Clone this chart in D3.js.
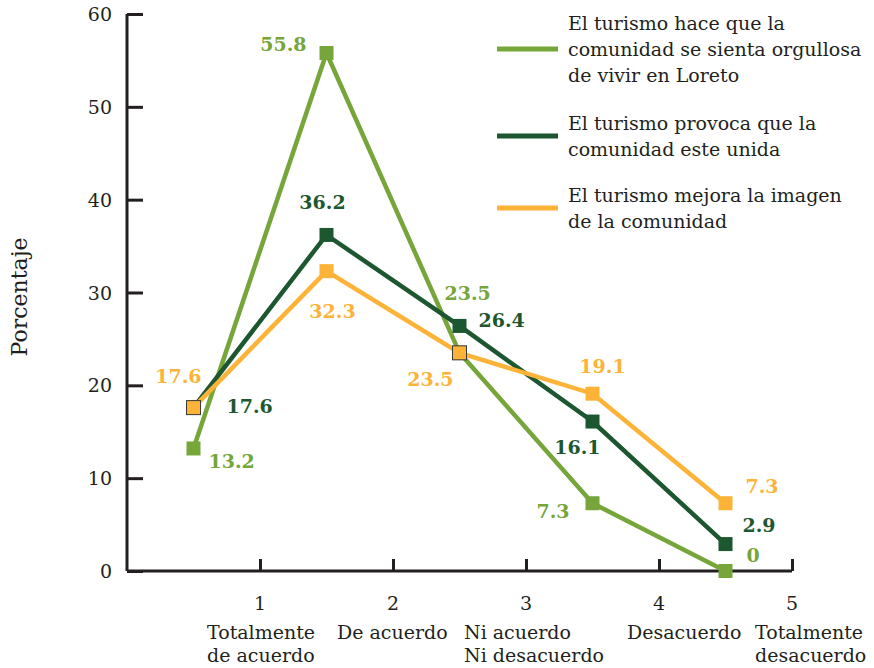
<!DOCTYPE html>
<html>
<head>
<meta charset="utf-8">
<script src="https://cdn.jsdelivr.net/npm/d3@7"></script>
<style>
  body { margin: 0; background: #fff; }
  text { font-family: "DejaVu Serif", "Liberation Serif", serif; }
</style>
</head>
<body>
<div id="chart"></div>
<script>
// categories on the x axis (tick number + two line label)
var ticks = [1, 2, 3, 4, 5];
var catLines = [
  ["Totalmente", "de acuerdo"],
  ["De acuerdo"],
  ["Ni acuerdo", "Ni desacuerdo"],
  ["Desacuerdo"],
  ["Totalmente", "desacuerdo"]
];
var xPos = [0.5, 1.5, 2.5, 3.5, 4.5];

var orgullosa = [13.2, 55.8, 23.5, 7.3, 0];
var unida = [17.6, 36.2, 26.4, 16.1, 2.9];
var imagen = [17.6, 32.3, 23.5, 19.1, 7.3];

var legendNames = [
  ["El turismo hace que la", "comunidad se sienta orgullosa", "de vivir en Loreto"],
  ["El turismo provoca que la", "comunidad este unida"],
  ["El turismo mejora la imagen", "de la comunidad"]
];
var yTicks = [0, 10, 20, 30, 40, 50, 60];

// left edge of each category label block, relative to its tick
var catShift = [-53, -56, -62, -32, -37];

// value label offsets (dx, dy, anchor) per point
var offOrg = [[15, 20, "start"], [-20, -2, "end"], [-15, -53, "start"], [-23, 15, "end"], [21, -9, "start"]];
var offUni = [[33, 5, "start"], [-4, -26, "middle"], [19, 1, "start"], [8, 32, "end"], [17, -12, "start"]];
var offIma = [[8, -25, "end"], [6, 47, "middle"], [-6, 33, "end"], [10, -21, "middle"], [20, -10, "start"]];

var series = [
  { name: legendNames[0], values: orgullosa, color: "#76a53a", off: offOrg },
  { name: legendNames[1], values: unida, color: "#1d5730", off: offUni },
  { name: legendNames[2], values: imagen, color: "#fdb338", off: offIma }
];

var width = 874, height = 668;
var svg = d3.select("#chart").append("svg")
  .attr("width", width)
  .attr("height", height);

var x = d3.scaleLinear().domain([0, 5]).range([127, 792]);
var y = d3.scaleLinear().domain([0, 60]).range([571, 14]);

// axes
var gy = svg.append("g").attr("transform", "translate(127,0)")
  .call(d3.axisRight(y).tickValues(yTicks).tickSize(16).tickFormat(""));
gy.select(".domain").attr("d", "M0," + y(60) + "V" + y(0)).attr("stroke", "#231f20").attr("stroke-width", 3);
gy.selectAll(".tick line").attr("stroke", "#231f20").attr("stroke-width", 3);

var gx = svg.append("g").attr("transform", "translate(0,571)")
  .call(d3.axisTop(x).tickValues(ticks).tickSize(12).tickFormat(""));
gx.select(".domain").attr("d", "M" + x(0) + ",0H" + x(5)).attr("stroke", "#231f20").attr("stroke-width", 3);
gx.selectAll(".tick line").attr("stroke", "#231f20").attr("stroke-width", 3);

svg.selectAll(".ylab").data(yTicks).enter().append("text")
  .attr("x", 112).attr("y", function(d) { return y(d) + 7; })
  .attr("text-anchor", "end").attr("font-size", 19).attr("fill", "#231f20")
  .text(function(d) { return d; });

svg.selectAll(".xlab").data(ticks).enter().append("text")
  .attr("x", function(d) { return x(d); }).attr("y", 610)
  .attr("text-anchor", "middle").attr("font-size", 19).attr("fill", "#231f20")
  .text(function(d) { return d; });

var cat = svg.selectAll(".cat").data(ticks).enter().append("text")
  .attr("font-size", 19).attr("fill", "#231f20");
cat.selectAll("tspan").data(function(d, i) { return catLines[i]; }).enter().append("tspan")
  .attr("x", function() {
    var t = d3.select(this.parentNode).datum();
    return x(t) + catShift[t - 1];
  })
  .attr("y", function(d, j) { return 639 + j * 23; })
  .text(function(d) { return d; });

svg.append("text")
  .attr("transform", "translate(27,297) rotate(-90)")
  .attr("text-anchor", "middle").attr("font-size", 22).attr("fill", "#231f20")
  .text("Porcentaje");

var line = d3.line()
  .x(function(d, i) { return x(xPos[i]); })
  .y(function(d) { return y(d); });

// lines
series.forEach(function(s) {
  svg.append("path").datum(s.values)
    .attr("fill", "none").attr("stroke", s.color).attr("stroke-width", 4.5)
    .attr("stroke-linejoin", "miter").attr("d", line);
});

// markers
series.forEach(function(s, k) {
  svg.selectAll(null).data(s.values).enter().append("rect")
    .attr("x", function(d, i) { return x(xPos[i]) - 7; })
    .attr("y", function(d) { return y(d) - 7; })
    .attr("width", 14).attr("height", 14)
    .attr("fill", s.color)
    // orange squares sitting on other markers get a thin dark edge
    .attr("stroke", function(d, i) { return k == 2 && (i == 0 || i == 2) ? "#3a3a3a" : "none"; })
    .attr("stroke-width", 1);
});

// value labels
series.forEach(function(s) {
  svg.selectAll(null).data(s.values).enter().append("text")
    .attr("x", function(d, i) { return x(xPos[i]) + s.off[i][0]; })
    .attr("y", function(d, i) { return y(d) + s.off[i][1]; })
    .attr("text-anchor", function(d, i) { return s.off[i][2]; })
    .attr("font-size", 19).attr("font-weight", "bold").attr("fill", s.color)
    .text(function(d) { return d; });
});

// legend
var legY = [49, 136, 208];
series.forEach(function(s, k) {
  var n = s.name.length;
  svg.append("line")
    .attr("x1", 497).attr("x2", 558).attr("y1", legY[k]).attr("y2", legY[k])
    .attr("stroke", s.color).attr("stroke-width", 5);
  svg.append("text").attr("font-size", 19).attr("fill", "#231f20")
    .selectAll("tspan").data(s.name).enter().append("tspan")
    .attr("x", 568)
    .attr("y", function(d, j) { return legY[k] + 7 + (j - (n - 1) / 2) * 26; })
    .text(function(d) { return d; });
});
</script>
</body>
</html>
